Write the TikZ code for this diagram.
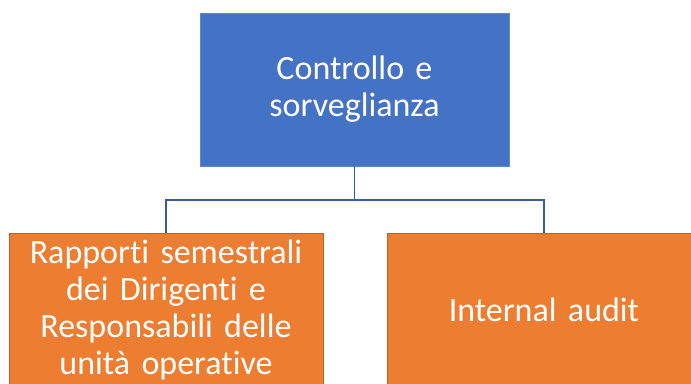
\documentclass[tikz,border=0pt]{standalone}
\usepackage{fontspec}
\setmainfont{Carlito}[Ligatures=NoCommon]
\usetikzlibrary{positioning}
\definecolor{boxblue}{HTML}{4472C4}
\definecolor{boxorange}{HTML}{ED7D31}
\definecolor{edgeorange}{HTML}{B5652B}
\definecolor{linkblue}{HTML}{3A5C9C}
\tikzset{
  box/.style={minimum height=153pt,inner sep=2pt,align=center,text=white,
    font=\fontsize{34pt}{37pt}\selectfont},
  topbox/.style={box,fill=boxblue,draw=boxblue!85!white,line width=0.8pt,
    minimum width=309pt,text width=290pt},
  subbox/.style={box,fill=boxorange,draw=edgeorange,line width=1pt,
    minimum width=314pt,text width=300pt},
  link/.style={draw=linkblue,line width=1.6pt}
}
\begin{document}
\begin{tikzpicture}[x=1pt,y=-1pt]
   \clip (0,0) rectangle (691,383);
   \fill[white] (0,0) rectangle (691,383);

   \node[topbox] (ctrl) at (354.5,89.5) {Controllo e\\sorveglianza};

   \node[subbox] (rapp) at (166,309.5) {Rapporti semestrali\\dei Dirigenti e\\Responsabili delle\\unità operative};
   \node[subbox] (audit) at (544,309.5) {Internal audit};

   \coordinate (bus) at (354.5,200);
   \draw[link] (ctrl.south) -- (bus);
   \draw[link] (bus) -| (rapp.north);
   \draw[link] (bus) -| (audit.north);
\end{tikzpicture}
\end{document}
